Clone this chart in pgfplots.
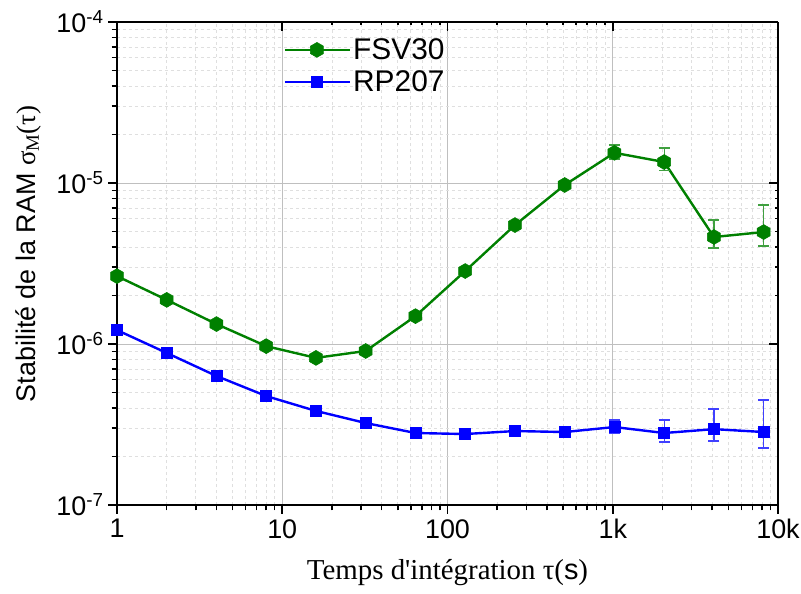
\documentclass[border=0pt]{standalone}
\usepackage{fontspec}
\setmainfont{Liberation Sans}
\newfontfamily\timesfont{Liberation Serif}
\usepackage{pgfplots}
\pgfplotsset{compat=1.18}
\definecolor{cgreen}{RGB}{0,128,0}
\definecolor{cblue}{RGB}{0,0,255}
\pgfdeclareplotmark{hexa}{%
  \pgfpathmoveto{\pgfqpointpolar{90}{\pgfplotmarksize}}%
  \pgfpathlineto{\pgfqpointpolar{150}{\pgfplotmarksize}}%
  \pgfpathlineto{\pgfqpointpolar{210}{\pgfplotmarksize}}%
  \pgfpathlineto{\pgfqpointpolar{270}{\pgfplotmarksize}}%
  \pgfpathlineto{\pgfqpointpolar{330}{\pgfplotmarksize}}%
  \pgfpathlineto{\pgfqpointpolar{30}{\pgfplotmarksize}}%
  \pgfpathclose\pgfusepathqfillstroke}
\begin{document}
\begin{tikzpicture}
\begin{axis}[name=ax,
  xmode=log, ymode=log,
  xmin=1, xmax=10000, ymin=1e-7, ymax=1e-4,
  width=661bp, height=483bp, scale only axis,
  axis x line*=bottom, axis y line*=left,
  axis line style={line width=2.2bp},
  tick align=outside,
  tick style={line width=1.5bp, black},
  major tick length=9bp, minor tick length=5.5bp,
  /pgf/number format/assume math mode=true,
  xtick={1,10,100,1000,10000},
  xticklabels={1,10,100,1k,10k},
  ytick={1e-7,1e-6,1e-5,1e-4},
  yticklabels={10\textsuperscript{-7},10\textsuperscript{-6},10\textsuperscript{-5},10\textsuperscript{-4}},
  ticklabel style={font=\fontsize{27}{31}\selectfont},
  xticklabel style={yshift=-2bp},
  yticklabel style={xshift=-1bp},
  grid=both,
  major grid style={gray!50, line width=0.8bp},
  minor grid style={gray!25, dashed, line width=0.7bp},
  xlabel={{\timesfont Temps d'intégration τ(}s{\timesfont )}},
  xlabel style={at={(axis description cs:0.5,0)}, anchor=north, yshift=-54bp, inner sep=0pt, font=\fontsize{29}{33}\selectfont},
  ylabel={Stabilité de la RAM {\timesfont σ\textsubscript{M}(τ)}},
  ylabel style={at={(axis description cs:-0.115,0.52)}, anchor=south, inner sep=0pt, font=\fontsize{27}{31}\selectfont},
  legend style={at={(rel axis cs:0.252,0.97)}, anchor=north west, draw=none, fill=none,
    row sep=6bp, inner sep=0pt, nodes={font=\fontsize{30}{34}\selectfont, inner sep=2bp}},
  legend cell align=left,
  legend image code/.code={\draw[#1, line width=2.4bp, mark repeat=2, mark phase=2] plot coordinates {(0bp,0bp)(32bp,0bp)(65bp,0bp)};},
]
\addplot[cgreen, line width=2.4bp, mark=hexa, mark size=7.5bp, mark options={solid, line width=0.5bp},
  error bars/.cd, y dir=both, y explicit,
  error bar style={cgreen!75!white, line width=1.2bp},
  error mark options={rotate=90, mark size=5.5bp, line width=1.2bp, cgreen!75!white}]
 table[x=x, y=y, y error plus=ep, y error minus=em] {
x y ep em
1 2.64e-6 0 0
2 1.88e-6 0 0
4 1.33e-6 0 0
8 9.7e-7 0 0
16 8.2e-7 0 0
32 9.05e-7 0 0
64 1.49e-6 0 0
128 2.84e-6 0 0
256 5.48e-6 0 0
512 9.72e-6 0 0
1024 1.54e-5 0.18e-5 0.13e-5
2048 1.35e-5 0.30e-5 0.15e-5
4096 4.62e-6 1.27e-6 0.67e-6
8192 4.96e-6 2.34e-6 0.90e-6
};
\addlegendentry{FSV30}
\addplot[cblue, line width=2.4bp, mark=square*, mark size=5.5bp, mark options={solid, line width=0.5bp},
  error bars/.cd, y dir=both, y explicit,
  error bar style={cblue!75!white, line width=1.2bp},
  error mark options={rotate=90, mark size=5.5bp, line width=1.2bp, cblue!75!white}]
 table[x=x, y=y, y error plus=ep, y error minus=em] {
x y ep em
1 1.22e-6 0 0
2 8.8e-7 0 0
4 6.33e-7 0 0
8 4.75e-7 0 0
16 3.84e-7 0 0
32 3.23e-7 0 0
64 2.80e-7 0 0
128 2.76e-7 0 0
256 2.88e-7 0 0
512 2.84e-7 0 0
1024 3.05e-7 0.32e-7 0.25e-7
2048 2.80e-7 0.57e-7 0.34e-7
4096 2.96e-7 0.99e-7 0.46e-7
8192 2.84e-7 1.65e-7 0.58e-7
};
\addlegendentry{RP207}
\end{axis}
\begin{axis}[
  xmode=log, ymode=log,
  xmin=1, xmax=10000, ymin=1e-7, ymax=1e-4,
  width=661bp, height=483bp, scale only axis,
  axis x line*=top, axis y line*=right,
  axis line style={line width=2.2bp},
  tick align=inside,
  tick style={line width=1.5bp, black},
  major tick length=9bp,
  xtick={10,100,1000}, ytick={1e-6,1e-5},
  minor xtick={}, minor ytick={},
  xticklabels={}, yticklabels={},
]
\end{axis}
\pgfresetboundingbox
\path[use as bounding box] ([shift={(-117bp,-89bp)}]ax.south west) rectangle ([shift={(23bp,22bp)}]ax.north east);
\end{tikzpicture}
\end{document}
